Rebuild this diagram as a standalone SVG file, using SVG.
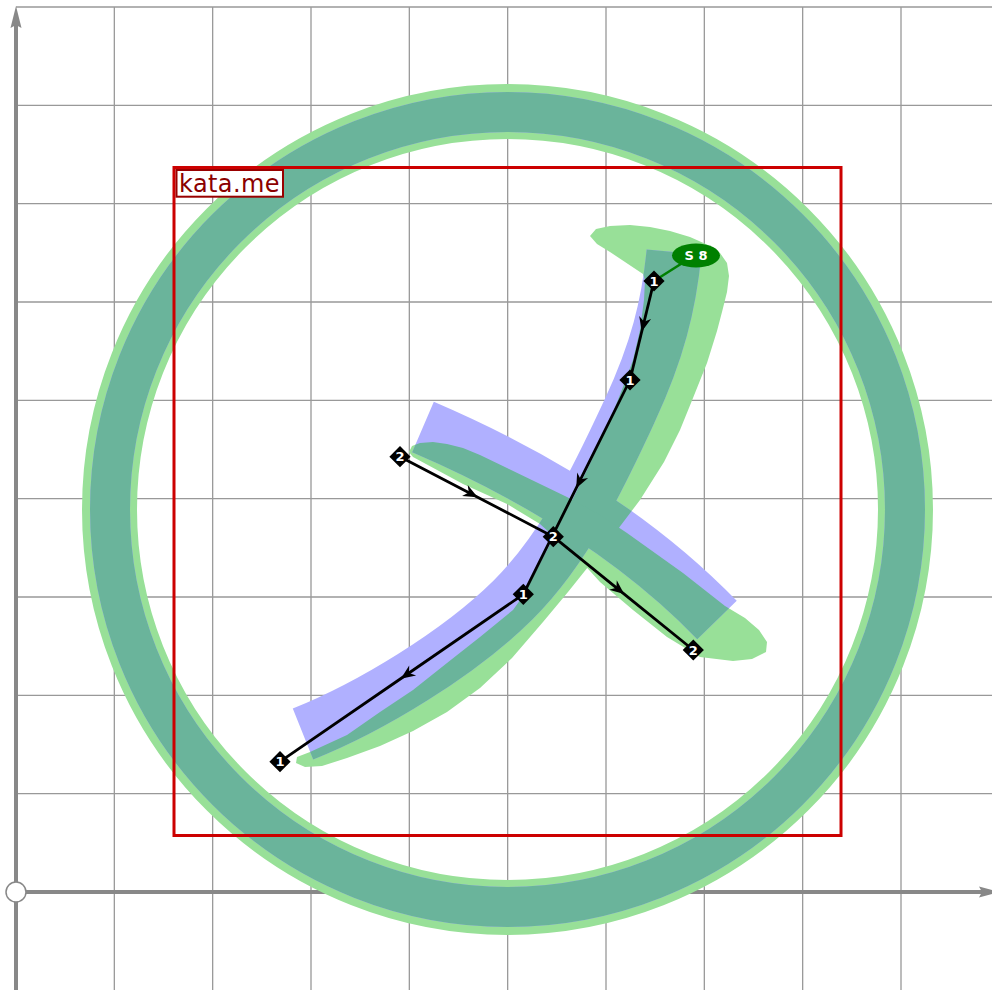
<svg xmlns="http://www.w3.org/2000/svg" xmlns:xlink="http://www.w3.org/1999/xlink" width="992" height="990" viewBox="0 0 992 990">
<style>
.grid{stroke:#999;stroke-width:1.3;fill:none}
.axis{stroke:#888;stroke-width:4;fill:none}
.edge{stroke:#000;stroke-width:2.8;fill:none;marker-mid:url(#arr)}
.dia{fill:#000}
.num{fill:#fff;font-family:"DejaVu Sans",sans-serif;font-weight:bold;font-size:13px;text-anchor:middle}
</style>
<defs>
<marker id="arr" markerUnits="userSpaceOnUse" markerWidth="20" markerHeight="20" viewBox="-15 -8 18 16" refX="0" refY="0" orient="auto">
<path d="M1,0 L-12,-5.5 L-8,0 L-12,5.5 Z" fill="#000"/>
</marker>
<g id="gshapes">
<circle cx="507.5" cy="509.5" r="398" fill="none" stroke-width="55"/>
<path stroke="none" d="M590,236 L596,229 L610,226 L630,225 L650,227 L670,231 L690,237 L708,245 L720,253 L727,263 L729,276 L727,292 L722,312 L717,331 L707,363 L693,398 L680,430 L664,462 L640,500 L615,533 L592,562 L568,592 L543,622 L512,658 L480,688 L447,712 L413,731 L380,746 L347,758 L322,766 L305,767 L296,763 L297,757 L310,752 L347,735 L380,712 L413,690 L447,663 L480,637 L513,610 L523,596 L555,535 L587,470 L610,420 L623,387 L633,360 L640,330 L644,300 L645,280 L643,274 L625,262 L610,252 L597,244 Z"/>
<path stroke="none" d="M409,452 L412,446 L420,443 L433,442 L447,444 L463,448 L480,455 L507,468 L567,497 L600,515 L627,533 L683,573 L725,606 L745,618 L759,630 L767,642 L766,652 L752,659 L733,661 L700,657 L667,637 L633,610 L600,582 L580,560 L540,524 L507,504 L463,484 L413,457 Z"/>
</g>
<g id="bshapes" fill="none">
<circle cx="507.5" cy="509.5" r="397.5" stroke-width="40"/>
<path stroke-width="55" d="M674,252 C669,305 657,352 630,410 C603,468 567.5,546 513,600 C458.5,654 369.7,707.3 303,734"/>
<path stroke-width="55" d="M423,427 C500,460 620,520 717,620"/>
</g>
<mask id="bm" maskUnits="userSpaceOnUse" x="0" y="0" width="992" height="990">
<rect x="0" y="0" width="992" height="990" fill="#000"/>
<use xlink:href="#bshapes" stroke="#fff"/>
</mask>
</defs>
<rect x="0" y="0" width="992" height="990" fill="#fff"/>
<g id="grid" class="grid">
<path d="M114.33,7V990M212.67,7V990M311,7V990M409.33,7V990M507.67,7V990M606,7V990M704.33,7V990M802.67,7V990M901,7V990"/>
<path d="M16,793.67H992M16,695.33H992M16,597H992M16,498.67H992M16,400.33H992M16,302H992M16,203.67H992M16,105.33H992M16,7H992"/>
</g>
<g id="axes">
<path class="axis" d="M16,990V24"/>
<polygon points="16,6 21.5,28 16,25 10.5,28" fill="#888"/>
<path class="axis" d="M16,892H982"/>
<polygon points="1000,892 979,886.5 982,892 979,897.5" fill="#888"/>
<circle cx="16" cy="892" r="10" fill="#fff" stroke="#888" stroke-width="1.5"/>
</g>
<g id="glyph">
<use xlink:href="#gshapes" fill="#98E098" stroke="#98E098"/>
<use xlink:href="#bshapes" stroke="#B0B0FF"/>
<g mask="url(#bm)"><use xlink:href="#gshapes" fill="#6AB49B" stroke="#6AB49B"/></g>
</g>
<g id="frame">
<rect x="174" y="167.5" width="667" height="668" fill="none" stroke="#cc0000" stroke-width="3"/>
<rect x="176.5" y="170" width="106.5" height="26.7" fill="#fff" stroke="#990000" stroke-width="2"/>
<text x="179" y="192" font-family="DejaVu Sans, sans-serif" font-size="24" letter-spacing="0.4" fill="#8b0000">kata.me</text>
</g>
<g id="connectors">
<path class="edge" d="M654,281 L642,330.5 L630,380"/>
<path class="edge" d="M630,380 L576.7,487.2 L523.3,594.3"/>
<path class="edge" d="M523.3,594.3 L401.7,678 L280,761.7"/>
<path class="edge" d="M400,456.7 L476.7,496.7 L553.3,536.7"/>
<path class="edge" d="M553.3,536.7 L623.3,593.3 L693.3,650"/>
<line x1="654" y1="281" x2="684" y2="262" stroke="#008000" stroke-width="2.5"/>
</g>
<g id="label-s8">
<ellipse cx="696" cy="255.5" rx="24" ry="12" fill="#008000"/>
<text x="696" y="260.2" class="num">S 8</text>
</g>
<g id="node-1a"><rect class="dia" x="646.5" y="273.5" width="15" height="15" transform="rotate(45 654 281)"/><text class="num" x="654" y="285.7">1</text></g>
<g id="node-1b"><rect class="dia" x="622.5" y="372.5" width="15" height="15" transform="rotate(45 630 380)"/><text class="num" x="630" y="384.7">1</text></g>
<g id="node-1c"><rect class="dia" x="515.8" y="586.8" width="15" height="15" transform="rotate(45 523.3 594.3)"/><text class="num" x="523.3" y="599">1</text></g>
<g id="node-1d"><rect class="dia" x="272.5" y="754.2" width="15" height="15" transform="rotate(45 280 761.7)"/><text class="num" x="280" y="766.4">1</text></g>
<g id="node-2a"><rect class="dia" x="392.5" y="449.2" width="15" height="15" transform="rotate(45 400 456.7)"/><text class="num" x="400" y="461.4">2</text></g>
<g id="node-2b"><rect class="dia" x="545.8" y="529.2" width="15" height="15" transform="rotate(45 553.3 536.7)"/><text class="num" x="553.3" y="541.4">2</text></g>
<g id="node-2c"><rect class="dia" x="685.8" y="642.5" width="15" height="15" transform="rotate(45 693.3 650)"/><text class="num" x="693.3" y="654.7">2</text></g>
</svg>
